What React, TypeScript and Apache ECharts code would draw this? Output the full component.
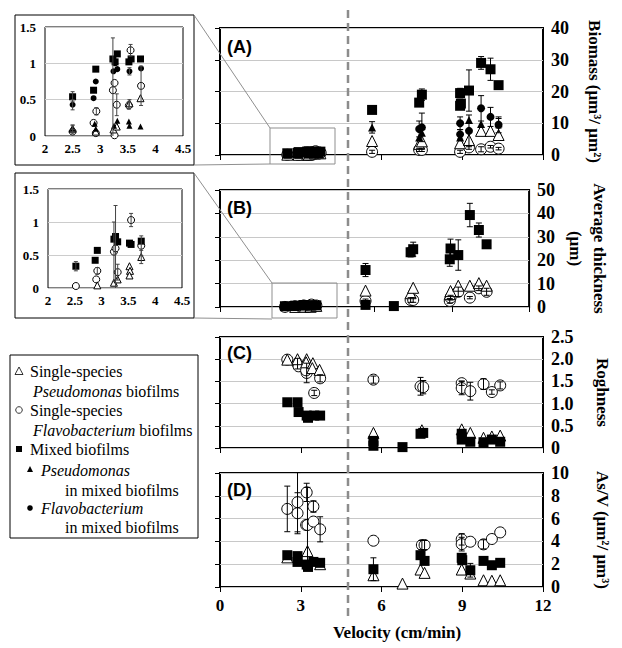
import React, { useEffect, useRef } from 'react';
import * as echarts from 'echarts';

// ---------- DATA: [velocity (cm/min), value, error] ----------
// (A) Biomass (µm3/µm2)
const biomassMixed = [
  [2.5, 0.54, 0.07], [2.88, 0.63, 0], [2.92, 0.92, 0], [3.23, 1.06, 0], [3.27, 1.02, 0], [3.31, 1.13, 0],
  [3.52, 1.02, 0], [3.56, 1.06, 0], [3.73, 1.06, 0],
  [5.65, 14.2, 0], [7.4, 16.5, 1], [7.5, 19.0, 1.8], [8.92, 19.5, 1.5], [8.92, 15.5, 1], [8.95, 16.2, 0],
  [9.25, 20.3, 6.5], [9.7, 29.0, 2], [10.05, 27.0, 3.5], [10.35, 22.0, 0],
];
const biomassPseuMixed = [
  [2.5, 0.1, 0.05], [2.9, 0.17, 0], [2.92, 0.1, 0], [3.25, 0.14, 0], [3.31, 0.21, 0], [3.52, 0.2, 0],
  [3.53, 0.14, 0], [3.73, 0.13, 0],
  [5.65, 8.7, 1.8], [7.4, 5.5, 0], [7.5, 7.0, 0], [8.92, 5.5, 0], [9.25, 11.0, 0], [9.7, 9.8, 0], [10.35, 10.0, 1.5],
];
const biomassFlavoMixed = [
  [2.5, 0.43, 0.07], [2.88, 0.52, 0], [2.92, 0.75, 0], [3.24, 0.89, 0], [3.27, 1.0, 0], [3.31, 0.92, 0],
  [3.53, 0.89, 0.05], [3.74, 0.93, 0],
  [7.4, 8.2, 2.5], [7.5, 8.7, 4.5], [8.92, 10.0, 2], [8.92, 6.5, 1.5], [9.25, 7.6, 5], [9.7, 14.7, 4],
  [10.05, 12.0, 3], [10.35, 9.5, 2.5],
];
const biomassPseuSingle = [
  [2.5, 0.1, 0.05], [2.92, 0.06, 0], [3.24, 0.09, 0], [3.3, 0.13, 0], [3.53, 0.45, 0.05], [3.73, 0.52, 0],
  [5.65, 4.4, 0], [7.4, 3.5, 0], [7.5, 4.3, 0], [8.92, 3.7, 0], [9.25, 4.7, 0], [9.7, 7.6, 0], [10.05, 7.6, 0],
  [10.35, 6.3, 0],
];
const biomassFlavoSingle = [
  [2.5, 0.06, 0.03], [2.88, 0.18, 0], [2.93, 0.34, 0.05], [2.92, 0.04, 0], [3.23, 0.63, 0.72], [3.26, 0.73, 0],
  [3.3, 0.43, 0.15], [3.26, 0.01, 0], [3.55, 1.18, 0.08], [3.52, 0.42, 0.05], [3.74, 0.69, 0.27],
  [5.65, 1.0, 0.5], [7.4, 1.6, 0.5], [7.5, 1.6, 0.5], [8.92, 1.0, 0.5], [9.25, 2.4, 0.6], [9.7, 1.8, 0.8],
  [10.05, 2.6, 0.4], [10.35, 2.0, 0.4],
];

// (B) Average thickness (µm)
const thickMixed = [
  [2.52, 0.33, 0.07], [2.88, 0.42, 0], [2.92, 0.57, 0], [3.23, 0.74, 0], [3.26, 0.78, 0], [3.3, 0.7, 0],
  [3.52, 0.68, 0], [3.55, 0.66, 0], [3.74, 0.71, 0],
  [5.65, 15.8, 2.8], [5.65, 0.9, 0], [6.75, 0.4, 0], [7.4, 23.4, 2], [7.5, 24.7, 3], [8.92, 20.4, 3],
  [8.95, 25.0, 4], [9.25, 22.2, 6.5], [9.7, 39.3, 5], [10.05, 32.9, 3], [10.35, 26.8, 0],
];
const thickPseuSingle = [
  [2.92, 0.04, 0], [3.23, 0.08, 0], [3.3, 0.13, 0], [3.52, 0.33, 0], [3.53, 0.26, 0], [3.52, 0.19, 0],
  [3.74, 0.47, 0.1],
  [5.65, 7.0, 0], [7.4, 5.9, 0], [7.5, 8.2, 0], [8.92, 5.5, 0], [8.95, 6.8, 0], [9.25, 9.1, 0], [9.7, 9.1, 0],
  [10.05, 10.2, 0], [10.35, 9.1, 0],
];
const thickFlavoSingle = [
  [2.52, 0.03, 0], [2.9, 0.13, 0], [2.92, 0.26, 0.05], [3.23, 0.55, 0.45], [3.26, 0.6, 0.65], [3.3, 0.24, 0.12],
  [3.55, 1.03, 0.1], [3.74, 0.64, 0.15],
  [5.65, 2.6, 0.8], [7.4, 3.0, 1], [7.5, 3.0, 1], [8.92, 2.6, 1], [8.95, 4.0, 1], [9.25, 6.5, 2], [9.7, 4.0, 0.5],
  [10.05, 8.0, 1], [10.35, 6.5, 1.5],
];

// (C) Roughness
const roughMixed = [
  [2.5, 1.03, 0], [2.88, 1.03, 0], [2.92, 0.81, 0], [3.22, 0.73, 0], [3.27, 0.68, 0], [3.5, 0.73, 0], [3.72, 0.73, 0],
  [5.7, 0.16, 0], [5.7, 0.05, 0], [6.78, 0.02, 0], [7.45, 0.32, 0.08], [7.55, 0.34, 0], [8.98, 0.32, 0],
  [8.98, 0.19, 0], [9.3, 0.14, 0], [9.79, 0.13, 0], [10.1, 0.19, 0], [10.41, 0.14, 0],
];
const roughPseuSingle = [
  [2.5, 1.99, 0], [2.88, 2.0, 0], [3.22, 2.0, 0], [3.2, 1.93, 0], [3.45, 1.91, 0], [3.43, 1.8, 0], [3.7, 1.76, 0],
  [5.7, 0.34, 0], [7.5, 0.4, 0], [8.98, 0.42, 0], [9.3, 0.34, 0], [9.79, 0.23, 0], [10.1, 0.26, 0], [10.41, 0.28, 0],
];
const roughFlavoSingle = [
  [2.5, 1.99, 0], [2.88, 1.9, 0.12], [2.92, 1.84, 0], [3.22, 1.69, 0.22], [3.2, 1.75, 0], [3.5, 1.24, 0.06],
  [3.72, 1.57, 0.08], [5.7, 1.54, 0.08], [7.45, 1.39, 0.2], [7.55, 1.37, 0.15], [8.98, 1.46, 0.05],
  [8.98, 1.35, 0.15], [9.3, 1.28, 0.2], [9.79, 1.44, 0.12], [10.1, 1.26, 0.05], [10.41, 1.41, 0.08],
];

// (D) As/V (µm2/µm3)
const asvMixed = [
  [2.5, 2.79, 0], [2.88, 2.71, 0], [2.88, 2.2, 0], [3.22, 1.97, 0], [3.27, 1.76, 0], [3.47, 2.2, 0], [3.72, 2.12, 0],
  [5.7, 1.56, 1], [7.45, 2.79, 0], [7.6, 2.29, 0], [8.98, 2.56, 0], [9.0, 2.35, 0], [9.3, 1.47, 0.6],
  [9.79, 2.29, 0.3], [10.1, 1.91, 0.3], [10.41, 2.12, 0],
];
const asvPseuSingle = [
  [2.5, 2.6, 0], [3.25, 3.15, 0], [3.72, 2.0, 0], [5.7, 1.03, 0], [6.78, 0.3, 0], [7.45, 1.53, 0], [7.6, 1.24, 0],
  [8.98, 1.53, 0], [9.3, 1.18, 0], [9.79, 0.59, 0], [10.1, 0.55, 0], [10.41, 0.59, 0],
];
const asvFlavoSingle = [
  [2.5, 6.85, 2.0], [2.88, 7.44, 2.6], [2.88, 6.47, 1.8], [3.22, 8.3, 0.8], [3.2, 5.44, 0], [3.25, 5.44, 3.3],
  [3.47, 7.06, 0.5], [3.47, 5.74, 0], [3.72, 5.06, 1.1], [5.7, 4.06, 0], [7.5, 3.68, 0.4], [7.6, 3.68, 0.4],
  [8.98, 4.18, 0.5], [8.98, 3.76, 0.6], [9.3, 3.97, 0], [9.79, 3.74, 0.4], [10.1, 4.21, 0], [10.41, 4.79, 0],
];

// Axes
const velocityRange = [0, 12, 3];
const insetVelocityRange = [2, 4.5, 0.5];
const insetValueRange = [0, 1.5, 0.5];
const panelNames = ['Biomass (μm³/ μm²)', 'Average thickness\n(μm)', 'Roghness', 'As/V (μm²/ μm³)'];
const panelRanges = [[0, 40, 10], [0, 50, 10], [0, 2.5, 0.5], [0, 10, 2]];
const panelLetters = ['(A)', '(B)', '(C)', '(D)'];
const legendLabels = [
  'Single-species', 'Pseudomonas', 'biofilms', 'Single-species', 'Flavobacterium', 'biofilms',
  'Mixed biofilms', 'Pseudomonas', 'in mixed biofilms', 'Flavobacterium', 'in mixed biofilms',
];

const SERIF = 'Liberation Serif';
const SANS = 'Liberation Sans';

type Kind = 'ps' | 'fs' | 'mx' | 'pm' | 'fm';

function scatter(data: number[][], xi: number, yi: number, kind: Kind, inset: boolean) {
  const base: any = {
    type: 'scatter', xAxisIndex: xi, yAxisIndex: yi, silent: true, clip: true,
    data: data.map((d) => [d[0], d[1]]),
  };
  const open = { color: '#fff', borderColor: '#000', borderWidth: 1, opacity: 1 };
  const fill = { color: '#000', borderWidth: 0, opacity: 1 };
  if (kind === 'ps') return { ...base, symbol: 'triangle', symbolSize: inset ? 7 : 11, itemStyle: open, z: 2 };
  if (kind === 'fs') return { ...base, symbol: 'circle', symbolSize: inset ? 7 : 11, itemStyle: open, z: 2 };
  if (kind === 'mx') return { ...base, symbol: 'rect', symbolSize: inset ? 7 : 10, itemStyle: fill, z: 4 };
  if (kind === 'pm') return { ...base, symbol: 'triangle', symbolSize: inset ? 6 : 8, itemStyle: fill, z: 3 };
  return { ...base, symbol: 'circle', symbolSize: inset ? 6 : 8, itemStyle: fill, z: 3 };
}

function errBars(data: number[][], xi: number, yi: number, color: string, cap: number) {
  return {
    type: 'custom', xAxisIndex: xi, yAxisIndex: yi, silent: true, clip: true, z: 6,
    data: data.filter((d) => d[2] > 0),
    encode: { x: 0, y: 1 },
    renderItem: (params: any, api: any) => {
      const x = api.value(0), y = api.value(1), e = api.value(2);
      const p1 = api.coord([x, y + e]);
      const p2 = api.coord([x, y - e]);
      const st = { stroke: color, lineWidth: 1 };
      return {
        type: 'group',
        children: [
          { type: 'line', shape: { x1: p1[0], y1: p1[1], x2: p2[0], y2: p2[1] }, style: st },
          { type: 'line', shape: { x1: p1[0] - cap, y1: p1[1], x2: p1[0] + cap, y2: p1[1] }, style: st },
          { type: 'line', shape: { x1: p2[0] - cap, y1: p2[1], x2: p2[0] + cap, y2: p2[1] }, style: st },
        ],
      };
    },
  };
}

export default function App() {
  const ref = useRef<HTMLDivElement>(null);
  useEffect(() => {
    const chart = echarts.init(ref.current!, null, { renderer: 'svg' });
    const mainGrids = [
      { top: 28, height: 127 },
      { top: 190, height: 117 },
      { top: 337, height: 111 },
      { top: 473, height: 114 },
    ];
    const grid: any[] = mainGrids.map((g) => ({
      left: 220, width: 323, top: g.top, height: g.height, show: true,
      borderColor: '#000', borderWidth: 2, backgroundColor: 'transparent', containLabel: false,
    }));
    grid.push({ left: 45, width: 138, top: 27, height: 109, show: true, borderColor: '#000', borderWidth: 1 });
    grid.push({ left: 48, width: 134, top: 189, height: 99, show: true, borderColor: '#000', borderWidth: 1 });

    const xAxis: any[] = mainGrids.map((_, i) => ({
      type: 'value', gridIndex: i, min: velocityRange[0], max: velocityRange[1], interval: velocityRange[2],
      axisLine: { show: false },
      axisTick: { show: true, length: 5, lineStyle: { color: '#000', width: 1 } },
      axisLabel: {
        show: i === 3, margin: 10, color: '#000', fontFamily: SERIF, fontWeight: 'bold', fontSize: 17,
      },
      splitLine: { show: false },
    }));
    [4, 5].forEach((gi) => xAxis.push({
      type: 'value', gridIndex: gi, min: insetVelocityRange[0], max: insetVelocityRange[1],
      interval: insetVelocityRange[2],
      axisLine: { show: false }, axisTick: { show: false },
      axisLabel: { margin: 6, color: '#000', fontFamily: SERIF, fontWeight: 'bold', fontSize: 13 },
      splitLine: { show: false },
    }));

    const nameGaps = [39, 34, 47, 47];
    const yAxis: any[] = mainGrids.map((_, i) => ({
      type: 'value', gridIndex: i, position: 'right',
      min: panelRanges[i][0], max: panelRanges[i][1], interval: panelRanges[i][2],
      name: panelNames[i], nameLocation: 'middle', nameRotate: -90, nameGap: nameGaps[i],
      nameTextStyle: { color: '#000', fontFamily: SERIF, fontWeight: 'bold', fontSize: 17, lineHeight: 24 },
      axisLine: { show: false }, axisTick: { show: false },
      axisLabel: {
        margin: 8, color: '#000', fontFamily: SERIF, fontWeight: 'bold', fontSize: 18,
        formatter: i === 2 ? (v: number) => (v === 0 ? '0' : v.toFixed(1)) : undefined,
      },
      splitLine: { show: true, lineStyle: { color: '#c8c8c8', width: 1 } },
    }));
    mainGrids.forEach((_, i) => yAxis.push({
      type: 'value', gridIndex: i, position: 'left',
      min: panelRanges[i][0], max: panelRanges[i][1], interval: panelRanges[i][2],
      axisLine: { show: false },
      axisTick: { show: true, length: 5, lineStyle: { color: '#000' } },
      axisLabel: { show: false }, splitLine: { show: false },
    }));
    [4, 5].forEach((gi) => yAxis.push({
      type: 'value', gridIndex: gi, min: insetValueRange[0], max: insetValueRange[1], interval: insetValueRange[2],
      axisLine: { show: false }, axisTick: { show: false },
      axisLabel: { margin: 9, color: '#000', fontFamily: SERIF, fontWeight: 'bold', fontSize: 13 },
      splitLine: { show: true, lineStyle: { color: '#cccccc', width: 1 } },
    }));

    const series: any[] = [];
    const addPanel = (xi: number, yi: number, inset: boolean, sets: [number[][], Kind][]) => {
      sets.forEach(([d, k]) => series.push(scatter(d, xi, yi, k, inset)));
      sets.forEach(([d]) => series.push(errBars(d, xi, yi, inset ? '#444' : '#000', inset ? 2 : 3)));
    };
    const biomassSets: [number[][], Kind][] = [
      [biomassFlavoSingle, 'fs'], [biomassPseuSingle, 'ps'], [biomassPseuMixed, 'pm'],
      [biomassFlavoMixed, 'fm'], [biomassMixed, 'mx'],
    ];
    const thickSets: [number[][], Kind][] = [
      [thickFlavoSingle, 'fs'], [thickPseuSingle, 'ps'], [thickMixed, 'mx'],
    ];
    addPanel(0, 0, false, biomassSets);
    addPanel(1, 1, false, thickSets);
    addPanel(2, 2, false, [[roughFlavoSingle, 'fs'], [roughPseuSingle, 'ps'], [roughMixed, 'mx']]);
    addPanel(3, 3, false, [[asvFlavoSingle, 'fs'], [asvPseuSingle, 'ps'], [asvMixed, 'mx']]);
    addPanel(4, 8, true, biomassSets);
    addPanel(5, 9, true, thickSets);

    const txt = (text: string, x: number, y: number, extra: any = {}) => ({
      type: 'text', x, y, z: 100,
      style: { text, fill: '#000', font: '16px Liberation Serif', verticalAlign: 'middle', align: 'left', ...extra },
    });
    const gray = { stroke: '#8f8f8f', lineWidth: 1 };
    const rich = {
      i: { fontFamily: SERIF, fontSize: 16, fontStyle: 'italic', fill: '#000' },
      n: { fontFamily: SERIF, fontSize: 16, fill: '#000' },
    };
    const graphic: any[] = [
      { type: 'rect', z: 100, shape: { x: 15, y: 15, width: 179, height: 150 }, style: { fill: 'transparent', stroke: '#000', lineWidth: 1 } },
      { type: 'rect', z: 100, shape: { x: 15, y: 173, width: 179, height: 145 }, style: { fill: 'transparent', stroke: '#000', lineWidth: 1 } },
      { type: 'rect', z: 100, shape: { x: 270, y: 128, width: 65, height: 36 }, style: { fill: 'transparent', ...gray } },
      { type: 'rect', z: 100, shape: { x: 272, y: 283, width: 65, height: 35 }, style: { fill: 'transparent', ...gray } },
      { type: 'line', z: 100, shape: { x1: 194, y1: 15, x2: 270, y2: 128 }, style: gray },
      { type: 'line', z: 100, shape: { x1: 194, y1: 165, x2: 270, y2: 164 }, style: gray },
      { type: 'line', z: 100, shape: { x1: 194, y1: 173, x2: 272, y2: 283 }, style: gray },
      { type: 'line', z: 100, shape: { x1: 194, y1: 318, x2: 272, y2: 319 }, style: gray },
      { type: 'line', z: 100, shape: { x1: 348, y1: 10, x2: 348, y2: 617 }, style: { stroke: '#8c8c8c', lineWidth: 2.5, lineDash: [8, 5] } },
      txt('Velocity (cm/min)', 397, 632, { font: 'bold 17px Liberation Serif', align: 'center' }),
      { type: 'rect', z: 100, shape: { x: 10, y: 355, width: 188, height: 183 }, style: { fill: '#fff', stroke: '#000', lineWidth: 1 } },
      { type: 'polygon', z: 101, shape: { points: [[19, 367], [23, 374.5], [15, 374.5]] }, style: { fill: '#fff', stroke: '#000', lineWidth: 0.8 } },
      { type: 'circle', z: 101, shape: { cx: 19, cy: 410, r: 3.3 }, style: { fill: '#fff', stroke: '#000', lineWidth: 0.8 } },
      { type: 'rect', z: 101, shape: { x: 16, y: 446, width: 6, height: 6 }, style: { fill: '#000' } },
      { type: 'polygon', z: 101, shape: { points: [[30, 466], [33, 472], [27, 472]] }, style: { fill: '#000' } },
      { type: 'circle', z: 101, shape: { cx: 30, cy: 508, r: 2.8 }, style: { fill: '#000' } },
      txt(legendLabels[0], 30, 371),
      txt(`{i|${legendLabels[1]}}{n| ${legendLabels[2]}}`, 33, 391, { rich }),
      txt(legendLabels[3], 30, 410),
      txt(`{i|${legendLabels[4]}}{n| ${legendLabels[5]}}`, 33, 430, { rich }),
      txt(legendLabels[6], 30, 449),
      txt(legendLabels[7], 41, 470, { font: 'italic 16px Liberation Serif' }),
      txt(legendLabels[8], 65, 490),
      txt(legendLabels[9], 41, 508, { font: 'italic 16px Liberation Serif' }),
      txt(legendLabels[10], 65, 527),
    ];
    const letterY = [47, 208, 353, 490];
    panelLetters.forEach((l, i) => graphic.push(
      txt(l, 227, letterY[i], { font: 'bold 18px Liberation Sans' }),
    ));

    chart.setOption({
      animation: false,
      backgroundColor: '#fff',
      grid, xAxis, yAxis, series, graphic,
    });
    return () => chart.dispose();
  }, []);
  return <div ref={ref} style={{ position: 'fixed', left: 0, top: 0, width: 622, height: 648 }} />;
}
